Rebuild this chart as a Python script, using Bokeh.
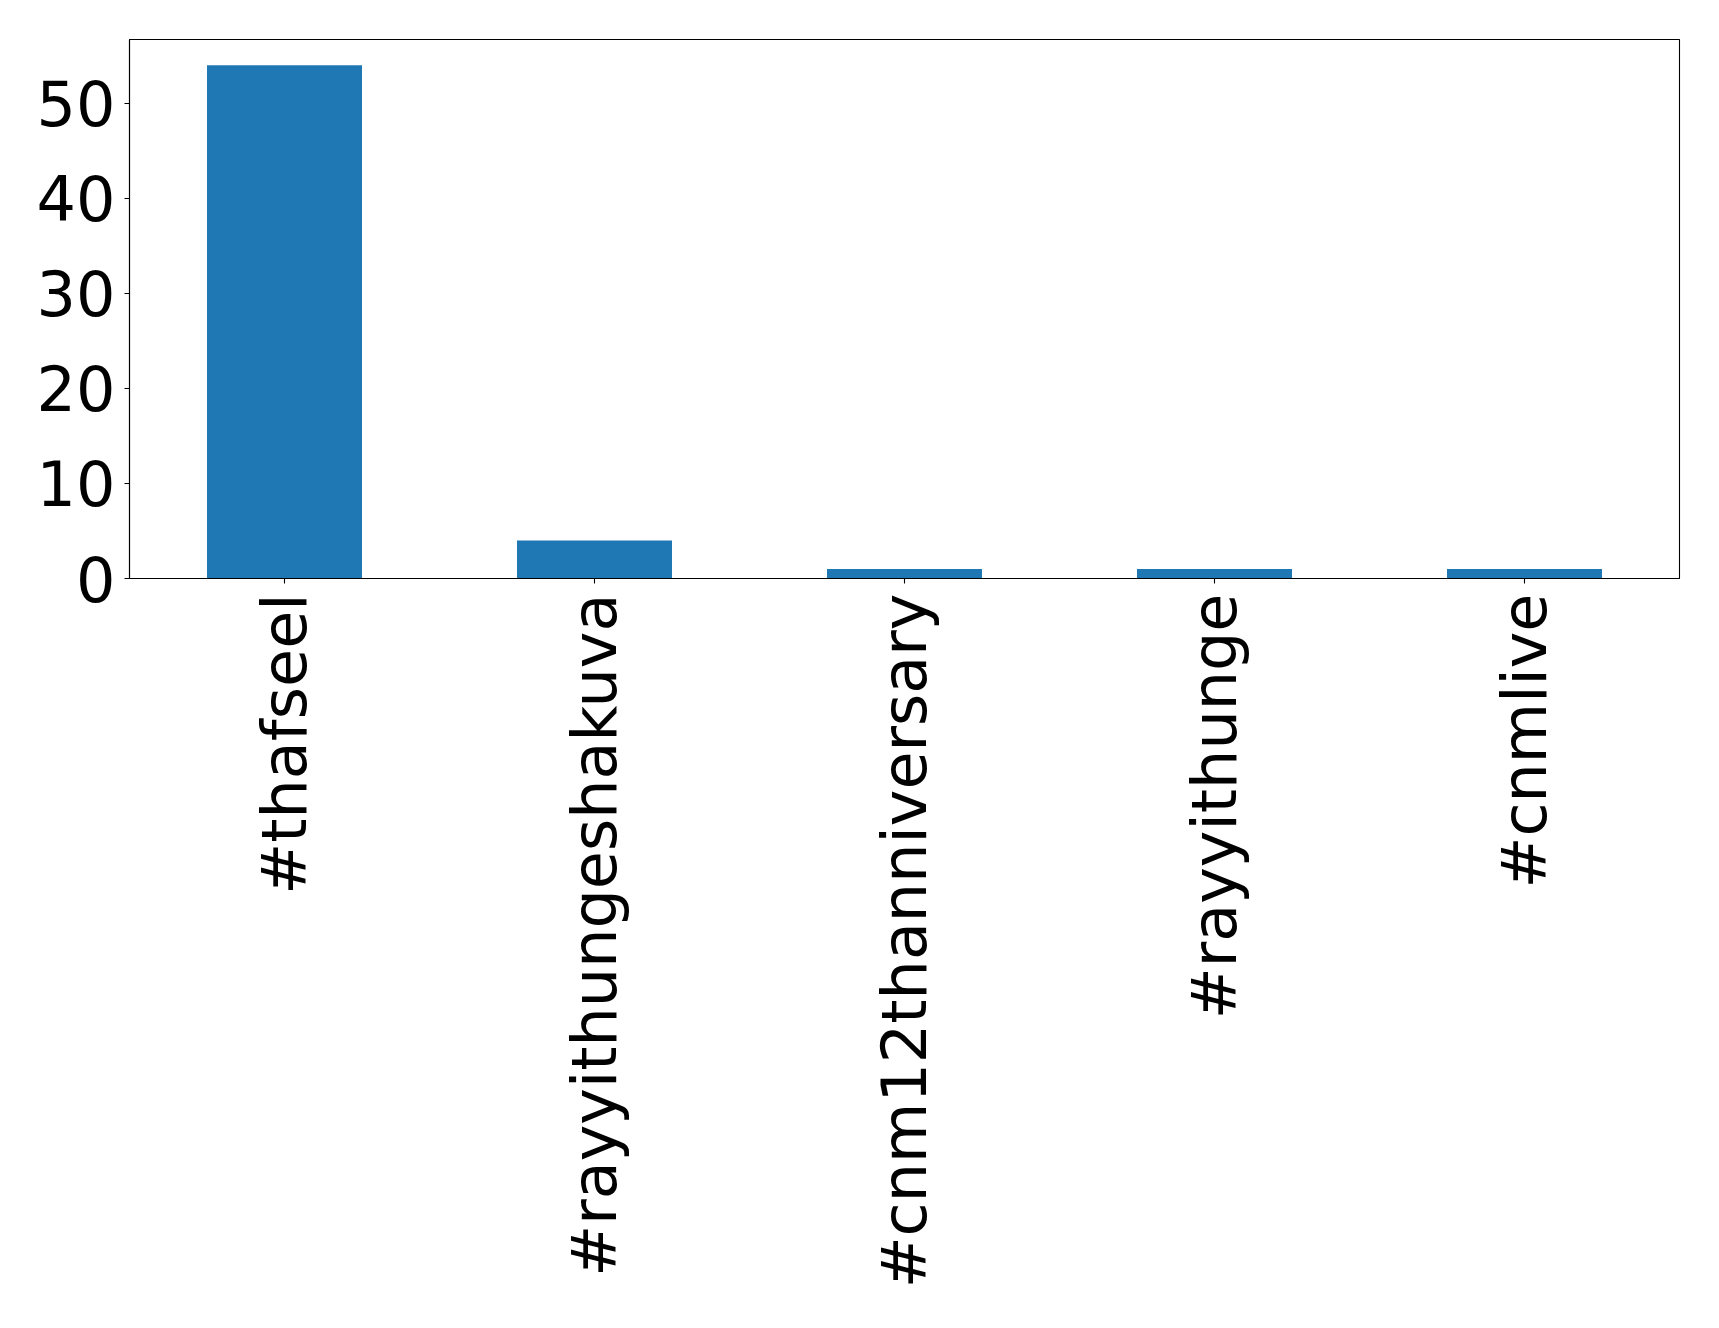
import math
from bokeh.plotting import figure
from bokeh.models import FactorRange, Range1d, FixedTicker, ColumnDataSource
from bokeh.embed import file_html
from bokeh.resources import INLINE

categories = ["#thafseel", "#rayyithungeshakuva", "#cnm12thanniversary", "#rayyithunge", "#cnmlive"]
counts = [54, 4, 1, 1, 1]
y_ticks = [0, 10, 20, 30, 40, 50]

src = ColumnDataSource(dict(cat=categories, val=counts))

p = figure(x_range=FactorRange(*categories, range_padding=0),
           y_range=Range1d(0, 56.7),
           frame_width=1550, frame_height=539,
           output_backend="svg", toolbar_location=None,
           min_border_left=129, min_border_top=39, min_border_right=31, min_border_bottom=10)

p.vbar(x="cat", top="val", width=0.5, source=src, fill_color="#1f77b4", line_color=None)

p.xgrid.visible = False
p.ygrid.visible = False
p.outline_line_color = "black"
p.outline_line_width = 1.1
p.outline_line_alpha = 1
p.background_fill_color = "white"
p.border_fill_color = "white"

for ax in (p.xaxis, p.yaxis):
    ax.axis_line_color = "black"
    ax.axis_line_width = 1.1
    ax.major_tick_line_color = "black"
    ax.major_tick_line_width = 1.1
    ax.major_tick_in = 0
    ax.major_tick_out = 5
    ax.minor_tick_line_color = None
    ax.major_label_text_font = "DejaVu Sans"
    ax.major_label_text_font_size = "62px"
    ax.major_label_text_color = "black"

p.yaxis.ticker = FixedTicker(ticks=y_ticks)
p.yaxis.major_label_standoff = 9
p.xaxis.major_label_orientation = math.pi / 2
p.xaxis.major_label_standoff = 10

open("out.html", "w").write(file_html(p, INLINE))
